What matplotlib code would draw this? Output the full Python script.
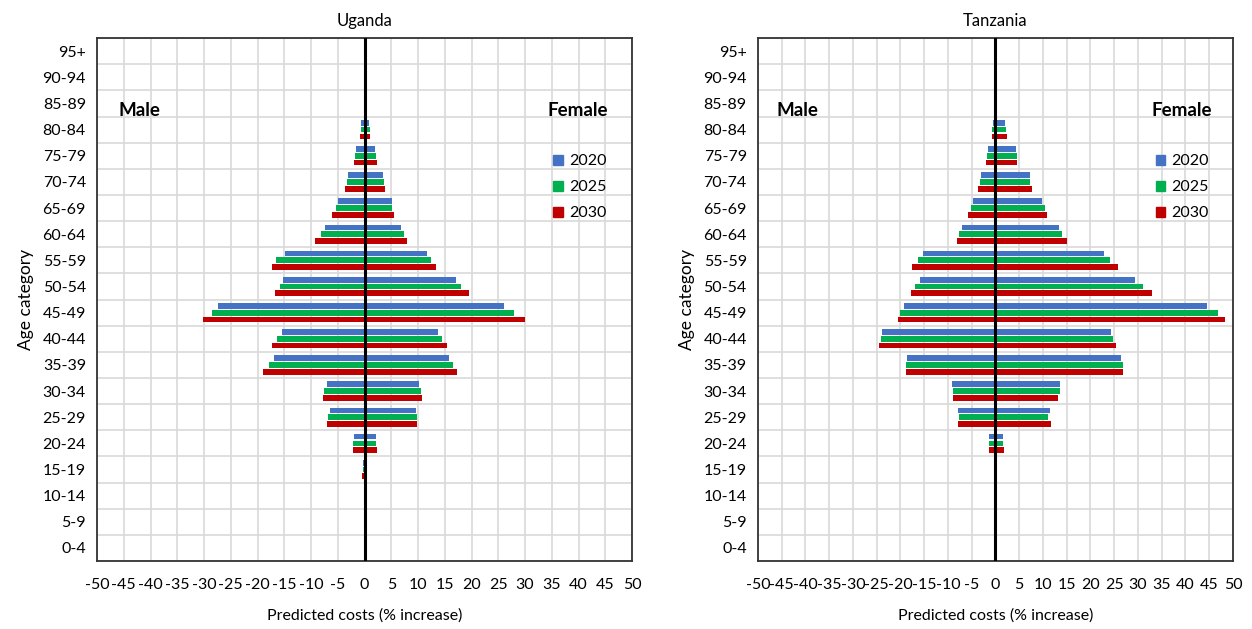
import numpy as np
import matplotlib
matplotlib.use("Agg")
import matplotlib.pyplot as plt
import matplotlib.patches as mpatches

plt.rcParams['font.family'] = ['Lato', 'DejaVu Sans']

# Age categories, bottom to top
ages = ['0-4', '5-9', '10-14', '15-19', '20-24', '25-29', '30-34', '35-39',
        '40-44', '45-49', '50-54', '55-59', '60-64', '65-69', '70-74',
        '75-79', '80-84', '85-89', '90-94', '95+']
years = ['2020', '2025', '2030']
colors = ['#4472C4', '#00B050', '#C00000']

# Uganda, % increase (male negative), listed 0-4 .. 95+
uga_m_2020 = [0, 0, 0, -0.2, -2.0, -6.5, -7.1, -17.0, -15.4, -27.3, -15.2, -14.9, -7.4, -5.0, -3.0, -1.5, -0.6, 0, 0, 0]
uga_m_2025 = [0, 0, 0, -0.3, -2.2, -6.8, -7.5, -17.9, -16.3, -28.5, -15.8, -16.5, -8.2, -5.3, -3.3, -1.7, -0.7, 0, 0, 0]
uga_m_2030 = [0, 0, 0, -0.4, -2.2, -7.1, -7.8, -19.0, -17.3, -30.2, -16.7, -17.3, -9.2, -6.0, -3.6, -1.9, -0.8, 0, 0, 0]
uga_f_2020 = [0, 0, 0, 0.2, 2.2, 9.6, 10.2, 15.7, 13.7, 26.0, 17.1, 11.7, 6.8, 5.1, 3.4, 2.0, 0.9, 0, 0, 0]
uga_f_2025 = [0, 0, 0, 0.2, 2.2, 9.8, 10.6, 16.6, 14.5, 28.0, 18.0, 12.5, 7.3, 5.2, 3.6, 2.2, 1.0, 0, 0, 0]
uga_f_2030 = [0, 0, 0, 0.3, 2.3, 9.9, 10.8, 17.3, 15.5, 30.0, 19.6, 13.3, 7.9, 5.6, 3.8, 2.4, 1.1, 0, 0, 0]

# Tanzania
tza_m_2020 = [0, 0, 0, 0, -1.3, -7.8, -9.1, -18.7, -23.8, -19.2, -15.8, -15.2, -7.0, -4.8, -3.1, -1.5, -0.6, -0.1, 0, 0]
tza_m_2025 = [0, 0, 0, 0, -1.3, -7.6, -9.0, -18.8, -24.1, -20.2, -16.9, -16.4, -7.6, -5.2, -3.3, -1.8, -0.7, -0.1, 0, 0]
tza_m_2030 = [0, 0, 0, 0, -1.3, -7.9, -8.9, -18.8, -24.5, -20.6, -17.8, -17.6, -8.2, -5.7, -3.6, -2.0, -0.8, -0.1, 0, 0]
tza_f_2020 = [0, 0, 0, 0, 1.5, 11.4, 13.6, 26.5, 24.3, 44.6, 29.4, 22.9, 13.4, 9.9, 7.3, 4.3, 2.1, 0.4, 0, 0]
tza_f_2025 = [0, 0, 0, 0, 1.6, 11.0, 13.6, 26.9, 24.8, 46.9, 31.1, 24.2, 14.1, 10.4, 7.2, 4.6, 2.2, 0.3, 0, 0]
tza_f_2030 = [0, 0, 0, 0, 1.7, 11.6, 13.1, 26.8, 25.3, 48.3, 32.9, 25.7, 15.0, 10.9, 7.6, 4.6, 2.4, 0.4, 0, 0]

xticks = np.arange(-50, 51, 5)

fig = plt.figure(figsize=(12.52, 6.29), dpi=100)
ax1 = fig.add_axes([0.0775, 0.108, 0.4273, 0.8315])
ax2 = fig.add_axes([0.6054, 0.108, 0.3794, 0.8315])


def pyramid(ax, title, male, female):
    y = np.arange(len(ages))
    offsets = [0.26, 0.0, -0.26]
    for m, f, off, c in zip(male, female, offsets, colors):
        ax.barh(y + off, m, height=0.22, color=c, zorder=3)
        ax.barh(y + off, f, height=0.22, color=c, zorder=3)
    ax.set_xlim(-50, 50)
    ax.set_ylim(-0.5, len(ages) - 0.5)
    ax.set_xticks(xticks)
    ax.set_xticklabels([str(v) for v in xticks], fontsize=11.5)
    ax.set_yticks(y)
    ax.set_yticklabels(ages, fontsize=11.5)
    ax.set_yticks(np.arange(-0.5, len(ages), 1), minor=True)
    ax.tick_params(which='both', length=0)
    ax.tick_params(axis='x', pad=12)
    ax.tick_params(axis='y', pad=8)
    ax.grid(True, axis='x', which='major', color='#d9d9d9', lw=1.2, zorder=0)
    ax.grid(True, axis='y', which='minor', color='#d9d9d9', lw=1.2, zorder=0)
    ax.axvline(0, color='black', lw=2.2, zorder=4)
    for s in ax.spines.values():
        s.set_color('#333333')
        s.set_linewidth(1.3)
    ax.set_title(title, fontsize=12, pad=9)
    ax.set_xlabel('Predicted costs (% increase)', fontsize=11.5, labelpad=12)
    ax.set_ylabel('Age category', fontsize=12.5, labelpad=6)
    ax.text(0.04, 0.862, 'Male', transform=ax.transAxes, fontsize=13.5,
            fontweight='bold', ha='left', va='center')
    ax.text(0.955, 0.862, 'Female', transform=ax.transAxes, fontsize=13.5,
            fontweight='bold', ha='right', va='center')
    handles = [mpatches.Patch(color=c, label=l) for c, l in zip(colors, years)]
    ax.legend(handles=handles, loc='upper right', bbox_to_anchor=(0.98, 0.805),
              frameon=False, fontsize=11.5, handlelength=0.6, handleheight=0.6,
              handletextpad=0.4, labelspacing=0.75)


pyramid(ax1, 'Uganda',
        [uga_m_2020, uga_m_2025, uga_m_2030],
        [uga_f_2020, uga_f_2025, uga_f_2030])
pyramid(ax2, 'Tanzania',
        [tza_m_2020, tza_m_2025, tza_m_2030],
        [tza_f_2020, tza_f_2025, tza_f_2030])

fig.savefig('out.png', dpi=100)
